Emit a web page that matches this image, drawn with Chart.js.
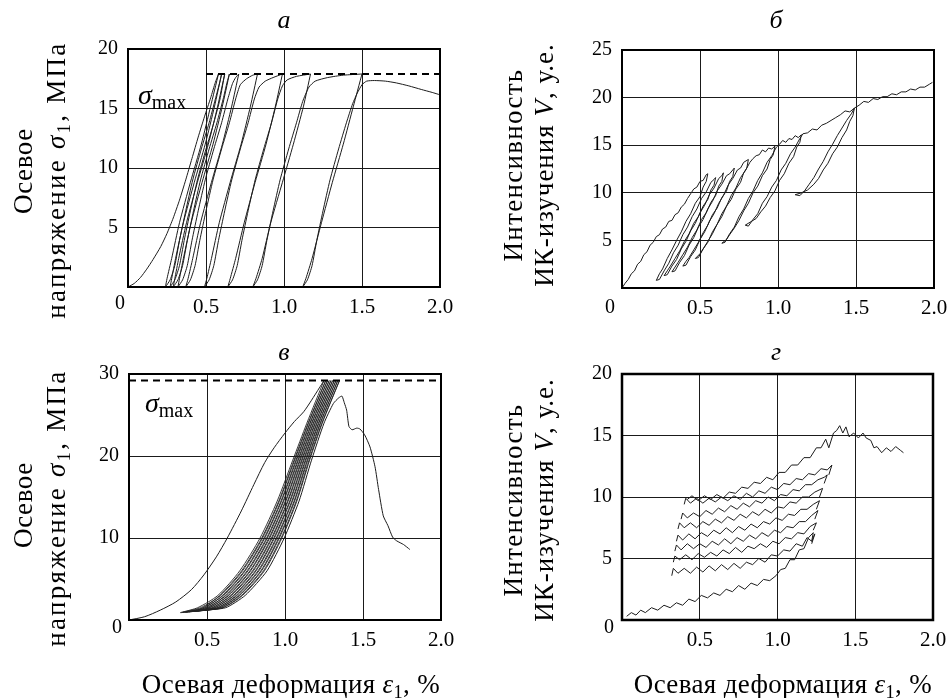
<!DOCTYPE html>
<html><head><meta charset="utf-8">
<script src="https://cdn.jsdelivr.net/npm/chart.js@4.4.1/dist/chart.umd.min.js"></script>
<style>
html,body{margin:0;padding:0;background:#fff;}
#wrap{position:relative;width:952px;height:698px;overflow:hidden;font-family:'Liberation Serif','Times New Roman',serif;color:#000;}
canvas{position:absolute;left:0;top:0;}
.t{position:absolute;white-space:nowrap;line-height:1;z-index:5;}
.c{transform:translate(-50%,-50%);}
.r{transform:translate(-50%,-50%) rotate(-90deg);}
.it{font-style:italic;}
sub{font-size:0.68em;vertical-align:-0.28em;line-height:0;}
</style></head><body>
<div id="wrap">
<canvas id="ca" width="952" height="698"></canvas>
<canvas id="cb" width="952" height="698"></canvas>
<canvas id="cc" width="952" height="698"></canvas>
<canvas id="cd" width="952" height="698"></canvas>

<div class="t c it" style="left:284px;top:20px;font-size:26px">а</div>
<div class="t c it" style="left:776px;top:20px;font-size:26px">б</div>
<div class="t c it" style="left:284px;top:352px;font-size:26px">в</div>
<div class="t c it" style="left:776px;top:352px;font-size:26px">г</div>

<div class="t r" style="left:23px;top:171px;font-size:27px;letter-spacing:0.6px">Осевое</div>
<div class="t r" style="left:56px;top:180px;font-size:27px;letter-spacing:2.3px">напряжение <i>σ</i><sub>1</sub>, МПа</div>
<div class="t r" style="left:513px;top:165px;font-size:27px;letter-spacing:1.3px">Интенсивность</div>
<div class="t r" style="left:544px;top:165px;font-size:27px;letter-spacing:1px">ИК-изучения <i>V</i>, у.е.</div>
<div class="t r" style="left:23px;top:505px;font-size:27px;letter-spacing:0.6px">Осевое</div>
<div class="t r" style="left:56px;top:508px;font-size:27px;letter-spacing:2.3px">напряжение <i>σ</i><sub>1</sub>, МПа</div>
<div class="t r" style="left:513px;top:500px;font-size:27px;letter-spacing:1.3px">Интенсивность</div>
<div class="t r" style="left:544px;top:500px;font-size:27px;letter-spacing:1px">ИК-изучения <i>V</i>, у.е.</div>

<div class="t c" style="left:291px;top:684px;font-size:27px;letter-spacing:0.35px">Осевая деформация <i>ε</i><sub>1</sub>, %</div>
<div class="t c" style="left:783px;top:684px;font-size:27px;letter-spacing:0.35px">Осевая деформация <i>ε</i><sub>1</sub>, %</div>

<div class="t c" style="left:120px;top:302px;font-size:20px">0</div>
<div class="t c" style="left:610px;top:306px;font-size:20px">0</div>
<div class="t c" style="left:117px;top:626px;font-size:20px">0</div>
<div class="t c" style="left:609px;top:626px;font-size:20px">0</div>

<div class="t" style="left:138px;top:81px;font-size:28px"><i>σ</i><span style="font-size:20px;position:relative;top:5px">max</span></div>
<div class="t" style="left:145px;top:389px;font-size:28px"><i>σ</i><span style="font-size:20px;position:relative;top:5px">max</span></div>
</div>
<script>
// ===== axis ranges / ticks =====
const xRange = [0, 2.0];
const xStep = 0.5;
const aYRange = [0, 20], aYStep = 5;
const bYRange = [0, 25], bYStep = 5;
const cYRange = [0, 30], cYStep = 10;
const dYRange = [0, 20], dYStep = 5;

// ===== panel а: axial stress vs strain (cyclic loading) =====
const a_smax = [[0.5,17.9],[2.0,17.9]];
const a_load0 = [[0,0],[0.04,0.3],[0.08,0.8],[0.12,1.5],[0.16,2.3],[0.21,3.4],[0.25,4.5],[0.29,5.8],[0.33,7.3],[0.37,9.0],[0.41,10.8],[0.45,12.6],[0.49,14.3],[0.53,15.9],[0.56,17.2],[0.58,17.9]];
const a_unload0 = [[0.58,17.9],[0.53,15.2],[0.47,12.0],[0.40,8.8],[0.33,5.4],[0.28,2.4],[0.25,0.7],[0.24,0]];
const a_load1 = [[0.24,0],[0.27,0.6],[0.30,1.8],[0.33,3.9],[0.37,6.4],[0.415,9.0],[0.47,11.6],[0.52,13.8],[0.56,15.8],[0.59,17.3],[0.60,17.9]];
const a_unload1 = [[0.60,17.9],[0.555,15.2],[0.495,12.0],[0.425,8.8],[0.355,5.4],[0.305,2.4],[0.28,0.7],[0.27,0]];
const a_load2 = [[0.27,0],[0.30,0.6],[0.33,1.8],[0.36,3.9],[0.40,6.4],[0.445,9.0],[0.50,11.6],[0.55,13.8],[0.59,15.8],[0.61,17.2],[0.62,17.9]];
const a_unload2 = [[0.62,17.9],[0.575,15.2],[0.515,12.0],[0.445,8.8],[0.375,5.4],[0.325,2.4],[0.30,0.7],[0.29,0]];
const a_load3 = [[0.29,0],[0.32,0.6],[0.35,1.8],[0.38,3.9],[0.42,6.4],[0.465,9.0],[0.52,11.6],[0.57,13.8],[0.61,15.8],[0.635,17.2],[0.65,17.9]];
const a_unload3 = [[0.65,17.9],[0.605,15.2],[0.545,12.0],[0.475,8.8],[0.405,5.4],[0.355,2.4],[0.33,0.7],[0.32,0]];
const a_load4 = [[0.32,0],[0.35,0.6],[0.38,1.8],[0.41,3.9],[0.45,6.4],[0.495,9.0],[0.55,11.6],[0.60,13.8],[0.64,15.8],[0.67,17.1],[0.69,17.6],[0.71,17.9]];
const a_unload4 = [[0.71,17.9],[0.665,15.2],[0.605,12.0],[0.535,8.8],[0.465,5.4],[0.415,2.4],[0.385,0.7],[0.37,0]];
const a_load5 = [[0.37,0],[0.40,0.6],[0.43,1.8],[0.46,3.9],[0.50,6.4],[0.545,9.0],[0.60,11.6],[0.65,13.8],[0.69,15.8],[0.72,17.0],[0.76,17.5],[0.80,17.8],[0.83,17.9]];
const a_unload5 = [[0.83,17.9],[0.785,15.2],[0.725,12.0],[0.655,8.8],[0.585,5.4],[0.535,2.4],[0.505,0.7],[0.49,0]];
const a_load6 = [[0.49,0],[0.52,0.6],[0.55,1.8],[0.58,3.9],[0.62,6.4],[0.665,9.0],[0.72,11.6],[0.77,13.8],[0.81,15.8],[0.84,16.8],[0.88,17.3],[0.93,17.6],[0.99,17.9]];
const a_unload6 = [[0.99,17.9],[0.945,15.2],[0.885,12.0],[0.815,8.8],[0.745,5.4],[0.69,2.4],[0.655,0.7],[0.64,0]];
const a_load7 = [[0.64,0],[0.67,0.6],[0.70,1.8],[0.73,3.9],[0.77,6.4],[0.815,9.0],[0.87,11.6],[0.92,13.8],[0.96,15.8],[0.99,16.9],[1.02,17.4],[1.08,17.7],[1.17,17.9]];
const a_unload7 = [[1.17,17.9],[1.125,15.2],[1.06,12.0],[0.99,8.8],[0.915,5.4],[0.86,2.4],[0.82,0.7],[0.80,0]];
const a_load8 = [[0.80,0],[0.83,0.6],[0.86,1.8],[0.89,3.9],[0.93,6.4],[0.975,9.0],[1.03,11.6],[1.08,13.8],[1.12,15.6],[1.16,16.8],[1.20,17.3],[1.28,17.6],[1.38,17.8],[1.50,17.9]];
const a_unload8 = [[1.50,17.9],[1.445,15.2],[1.38,12.0],[1.31,8.8],[1.24,5.4],[1.18,2.4],[1.14,0.7],[1.12,0]];
const a_final = [[1.12,0],[1.15,0.6],[1.18,1.8],[1.21,3.9],[1.25,6.4],[1.295,9.0],[1.35,11.6],[1.40,13.8],[1.44,15.4],[1.47,16.3],[1.50,17.0],[1.53,17.3],[1.58,17.35],[1.65,17.3],[1.72,17.15],[1.80,16.9],[1.88,16.6],[1.95,16.35],[2.0,16.15]];

// ===== panel б: IR intensity vs strain =====
const b_virgin = [[0,0],[0.02,0.5],[0.04,0.9],[0.06,1.5],[0.08,1.8],[0.10,2.5],[0.12,2.8],[0.14,3.5],[0.16,3.8],[0.18,4.5],[0.20,4.8],[0.22,5.4],[0.24,5.6],[0.26,6.2],[0.28,6.4],[0.30,7.0],[0.32,7.1],[0.34,7.7],[0.36,7.9],[0.38,8.5],[0.40,8.8],[0.42,9.4],[0.44,9.9],[0.46,10.4],[0.48,10.6],[0.50,11.2],[0.52,11.3],[0.54,11.9],[0.55,12.0]];
const b_loop1 = [[0.55,12.0],[0.54,11.2],[0.52,10.6],[0.50,9.6],[0.47,8.9],[0.44,7.8],[0.41,7.0],[0.38,5.9],[0.35,5.0],[0.32,4.0],[0.29,3.1],[0.26,2.0],[0.24,1.5],[0.22,0.8],[0.24,0.9],[0.27,1.8],[0.30,2.6],[0.33,3.7],[0.36,4.5],[0.39,5.6],[0.42,6.4],[0.45,7.5],[0.48,8.3],[0.51,9.4],[0.54,10.1],[0.57,11.1],[0.59,11.4],[0.60,11.6]];
const b_loop2 = [[0.60,11.6],[0.59,10.8],[0.57,10.3],[0.55,9.3],[0.52,8.6],[0.49,7.5],[0.46,6.8],[0.43,5.7],[0.40,4.9],[0.37,3.9],[0.34,3.1],[0.31,2.3],[0.29,1.8],[0.27,1.3],[0.29,1.4],[0.32,2.3],[0.35,3.0],[0.38,4.1],[0.41,4.9],[0.44,6.0],[0.47,6.8],[0.50,7.9],[0.53,8.7],[0.56,9.8],[0.59,10.5],[0.62,11.5],[0.64,11.8],[0.65,12.1]];
const b_loop3 = [[0.65,12.1],[0.64,11.2],[0.62,10.7],[0.60,9.7],[0.57,9.0],[0.54,7.9],[0.51,7.2],[0.48,6.1],[0.45,5.3],[0.42,4.3],[0.39,3.5],[0.36,2.7],[0.34,2.2],[0.32,1.7],[0.34,1.8],[0.37,2.7],[0.40,3.4],[0.43,4.5],[0.46,5.3],[0.49,6.4],[0.52,7.2],[0.55,8.3],[0.58,9.1],[0.61,10.2],[0.64,10.9],[0.67,11.8],[0.69,12.0],[0.72,12.6]];
const b_loop4 = [[0.72,12.6],[0.71,11.7],[0.69,11.2],[0.67,10.2],[0.64,9.5],[0.61,8.4],[0.58,7.7],[0.55,6.6],[0.52,5.8],[0.49,4.8],[0.46,4.0],[0.43,3.2],[0.41,2.8],[0.39,2.3],[0.41,2.4],[0.44,3.3],[0.47,4.0],[0.50,5.1],[0.53,5.9],[0.56,7.0],[0.59,7.8],[0.62,8.9],[0.65,9.7],[0.68,10.8],[0.71,11.5],[0.74,12.4],[0.76,12.6],[0.78,13.2],[0.81,13.5]];
const b_loop5 = [[0.81,13.5],[0.80,12.6],[0.78,12.1],[0.76,11.1],[0.73,10.4],[0.70,9.3],[0.67,8.6],[0.64,7.5],[0.61,6.7],[0.58,5.7],[0.55,4.9],[0.52,4.1],[0.50,3.6],[0.47,3.1],[0.49,3.2],[0.52,4.1],[0.55,4.8],[0.58,5.9],[0.61,6.7],[0.64,7.8],[0.67,8.6],[0.70,9.7],[0.73,10.5],[0.76,11.6],[0.79,12.3],[0.82,13.2],[0.84,13.6],[0.86,13.9],[0.88,14.0],[0.90,14.5],[0.92,14.3],[0.94,14.7],[0.96,14.6],[0.98,14.9]];
const b_loop6 = [[0.98,14.9],[0.97,14.0],[0.95,13.5],[0.93,12.5],[0.90,11.8],[0.87,10.7],[0.84,10.0],[0.81,8.9],[0.78,8.1],[0.75,7.1],[0.72,6.3],[0.69,5.6],[0.67,5.1],[0.64,4.7],[0.66,4.8],[0.69,5.7],[0.72,6.4],[0.75,7.5],[0.78,8.3],[0.81,9.4],[0.84,10.2],[0.87,11.3],[0.90,12.1],[0.93,13.2],[0.96,13.9],[0.99,14.8],[1.01,15.1],[1.03,15.5],[1.05,15.3],[1.07,15.7],[1.09,15.6],[1.11,16.0],[1.13,15.8],[1.15,16.1]];
const b_loop7 = [[1.15,16.1],[1.14,15.3],[1.12,14.8],[1.10,13.8],[1.07,13.1],[1.04,12.0],[1.01,11.3],[0.98,10.2],[0.95,9.5],[0.92,8.6],[0.89,8.0],[0.86,7.3],[0.83,7.0],[0.79,6.6],[0.81,6.5],[0.84,7.2],[0.87,7.8],[0.90,8.9],[0.93,9.6],[0.96,10.6],[0.99,11.3],[1.02,12.4],[1.05,13.1],[1.08,14.1],[1.11,14.8],[1.14,15.7],[1.16,16.2],[1.19,16.3],[1.22,16.7],[1.25,16.6],[1.28,17.1],[1.31,17.3],[1.34,17.6],[1.37,17.9],[1.40,18.2],[1.43,18.6],[1.46,18.5],[1.49,18.9]];
const b_loop8 = [[1.49,18.9],[1.48,18.1],[1.46,17.5],[1.44,16.6],[1.41,15.8],[1.38,14.8],[1.35,14.1],[1.32,13.1],[1.29,12.4],[1.26,11.5],[1.23,10.9],[1.19,10.3],[1.15,10.0],[1.11,9.8],[1.14,9.7],[1.17,10.2],[1.20,10.9],[1.23,11.6],[1.26,12.5],[1.29,13.3],[1.32,14.3],[1.35,15.1],[1.38,16.0],[1.41,16.8],[1.44,17.6],[1.47,18.3],[1.49,18.9]];
const b_final = [[1.49,18.9],[1.52,19.2],[1.55,19.6],[1.58,19.5],[1.61,19.9],[1.64,19.8],[1.67,20.1],[1.70,20.1],[1.73,20.4],[1.76,20.3],[1.79,20.6],[1.82,20.6],[1.85,20.9],[1.88,20.8],[1.91,21.1],[1.94,21.1],[1.97,21.4],[1.99,21.6]];

// ===== panel в: axial stress vs strain (fatigue cycling) =====
const c_smax = [[0,29.2],[2.0,29.2]];
const c_virgin = [[0,0],[0.1,0.4],[0.2,1.2],[0.3,2.2],[0.4,3.7],[0.48,5.5],[0.56,7.7],[0.63,10],[0.72,13.3],[0.8,16.5],[0.87,19.2],[0.93,21],[1.0,22.8],[1.06,24.2],[1.12,25.4],[1.17,26.8],[1.22,28.3],[1.25,29.2]];
const c_loop0 = [[1.25,29.2],[1.14,24],[1.05,19.5],[0.95,14.5],[0.84,10],[0.71,6],[0.57,3],[0.44,1.5],[0.33,0.9],[0.453,1.3],[0.582,3],[0.722,6],[0.851,10],[0.96,14.5],[1.058,19.5],[1.148,24],[1.261,29.2]];
const c_loop1 = [[1.261,29.2],[1.151,24],[1.062,19.5],[0.964,14.5],[0.856,10],[0.728,6],[0.588,3],[0.458,1.5],[0.345,0.95],[0.471,1.35],[0.60,3],[0.74,6],[0.866,10],[0.974,14.5],[1.07,19.5],[1.159,24],[1.272,29.2]];
const c_loop2 = [[1.272,29.2],[1.162,24],[1.074,19.5],[0.978,14.5],[0.871,10],[0.745,6],[0.605,3],[0.476,1.5],[0.36,0.95],[0.489,1.35],[0.617,3],[0.757,6],[0.882,10],[0.988,14.5],[1.082,19.5],[1.17,24],[1.283,29.2]];
const c_loop3 = [[1.283,29.2],[1.173,24],[1.086,19.5],[0.992,14.5],[0.887,10],[0.763,6],[0.623,3],[0.494,1.5],[0.37,1.0],[0.507,1.4],[0.635,3],[0.775,6],[0.897,10],[1.002,14.5],[1.094,19.5],[1.181,24],[1.294,29.2]];
const c_loop4 = [[1.294,29.2],[1.184,24],[1.098,19.5],[1.006,14.5],[0.902,10],[0.78,6],[0.64,3],[0.512,1.5],[0.385,1.0],[0.525,1.4],[0.652,3],[0.792,6],[0.913,10],[1.016,14.5],[1.106,19.5],[1.192,24],[1.305,29.2]];
const c_loop5 = [[1.305,29.2],[1.195,24],[1.11,19.5],[1.02,14.5],[0.918,10],[0.798,6],[0.658,3],[0.53,1.5],[0.40,1.05],[0.543,1.45],[0.67,3],[0.81,6],[0.928,10],[1.03,14.5],[1.118,19.5],[1.203,24],[1.316,29.2]];
const c_loop6 = [[1.316,29.2],[1.206,24],[1.122,19.5],[1.034,14.5],[0.933,10],[0.815,6],[0.675,3],[0.548,1.5],[0.41,1.05],[0.561,1.45],[0.687,3],[0.827,6],[0.944,10],[1.044,14.5],[1.13,19.5],[1.214,24],[1.327,29.2]];
const c_loop7 = [[1.327,29.2],[1.217,24],[1.134,19.5],[1.048,14.5],[0.949,10],[0.833,6],[0.693,3],[0.566,1.5],[0.425,1.1],[0.579,1.5],[0.705,3],[0.845,6],[0.959,10],[1.058,14.5],[1.142,19.5],[1.225,24],[1.338,29.2]];
const c_loop8 = [[1.338,29.2],[1.228,24],[1.146,19.5],[1.062,14.5],[0.964,10],[0.85,6],[0.71,3],[0.584,1.5],[0.44,1.1],[0.597,1.5],[0.722,3],[0.862,6],[0.975,10],[1.072,14.5],[1.154,19.5],[1.236,24],[1.349,29.2]];
const c_loop9 = [[1.349,29.2],[1.239,24],[1.158,19.5],[1.076,14.5],[0.98,10],[0.868,6],[0.728,3],[0.602,1.5],[0.455,1.15]];
const c_final = [[0.455,1.15],[0.62,1.5],[0.745,3],[0.885,6],[0.995,10],[1.09,14.5],[1.17,19.5],[1.25,24],[1.31,26.4],[1.345,27.1],[1.365,27.3],[1.38,26.5],[1.395,25.6],[1.41,23.6],[1.43,23.2],[1.46,23.4],[1.48,23.3],[1.51,22.6],[1.545,21.1],[1.577,18.7],[1.60,15.9],[1.63,12.7],[1.66,11.5],[1.69,10.1],[1.716,9.65],[1.76,9.2],[1.80,8.6]];

// ===== panel г: IR intensity vs strain (fatigue cycling) =====
const d_virgin = [[0.03,0.3],[0.06,0.6],[0.09,0.4],[0.12,0.8],[0.15,0.6],[0.19,1.0],[0.23,0.8],[0.27,1.2],[0.31,1.0],[0.35,1.4],[0.39,1.2],[0.43,1.7],[0.47,1.5],[0.51,2.0],[0.55,1.8],[0.59,2.2],[0.63,2.0],[0.67,2.5],[0.71,2.3],[0.75,2.8],[0.79,2.5],[0.83,3.0],[0.87,2.8],[0.91,3.3],[0.95,3.2],[0.99,3.6],[1.02,4.1],[1.05,4.2],[1.08,4.9],[1.11,4.9],[1.14,5.7],[1.17,5.8],[1.20,6.7],[1.23,7.1],[1.22,6.4]];
const d_line1 = [[0.32,3.6],[0.33,4.2],[0.36,3.8],[0.40,4.2],[0.44,3.8],[0.48,4.3],[0.52,3.9],[0.56,4.4],[0.60,4.0],[0.64,4.5],[0.68,4.1],[0.72,4.6],[0.76,4.2],[0.80,4.7],[0.84,4.5],[0.88,5.0],[0.92,4.7],[0.96,5.3],[1.00,5.2],[1.04,5.7],[1.08,5.6],[1.12,6.2],[1.16,6.0],[1.19,6.7],[1.22,6.4],[1.24,7.0],[1.22,6.2]];
const d_line2 = [[0.33,4.7],[0.34,5.2],[0.37,4.9],[0.41,5.3],[0.45,4.9],[0.49,5.4],[0.53,5.1],[0.57,5.5],[0.61,5.2],[0.65,5.7],[0.69,5.4],[0.73,5.9],[0.77,5.5],[0.81,6.0],[0.85,5.8],[0.89,6.2],[0.93,5.9],[0.97,6.4],[1.01,6.2],[1.05,6.7],[1.09,6.6],[1.13,7.1],[1.17,7.0],[1.21,7.6],[1.25,7.9],[1.23,7.3]];
const d_line3 = [[0.34,5.6],[0.35,6.1],[0.38,5.7],[0.42,6.2],[0.46,5.8],[0.50,6.2],[0.54,5.9],[0.58,6.4],[0.62,6.1],[0.66,6.6],[0.70,6.2],[0.74,6.7],[0.78,6.4],[0.82,6.9],[0.86,6.6],[0.90,7.1],[0.94,6.8],[0.98,7.3],[1.02,7.1],[1.06,7.6],[1.10,7.5],[1.14,8.0],[1.18,8.0],[1.22,8.5],[1.26,8.9],[1.24,8.2]];
const d_line4 = [[0.35,6.4],[0.36,6.9],[0.39,6.5],[0.43,7.0],[0.47,6.6],[0.51,7.1],[0.55,6.8],[0.59,7.3],[0.63,7.0],[0.67,7.5],[0.71,7.1],[0.75,7.6],[0.79,7.3],[0.83,7.8],[0.87,7.5],[0.91,8.0],[0.95,7.8],[0.99,8.3],[1.03,8.1],[1.07,8.6],[1.11,8.5],[1.15,9.0],[1.19,9.0],[1.23,9.4],[1.27,9.7],[1.25,9.0]];
const d_line5 = [[0.36,7.4],[0.37,7.9],[0.40,7.5],[0.44,7.9],[0.48,7.5],[0.52,8.0],[0.56,7.7],[0.60,8.2],[0.64,7.9],[0.68,8.4],[0.72,8.1],[0.76,8.6],[0.80,8.3],[0.84,8.8],[0.88,8.5],[0.92,9.0],[0.96,8.7],[1.00,9.2],[1.04,9.1],[1.08,9.6],[1.12,9.5],[1.16,10.0],[1.20,10.0],[1.24,10.4],[1.29,10.7],[1.27,10.0]];
const d_line6 = [[0.38,8.2],[0.39,8.7],[0.42,8.3],[0.46,8.7],[0.50,8.4],[0.54,8.9],[0.58,8.6],[0.62,9.1],[0.66,8.8],[0.70,9.3],[0.74,9.0],[0.78,9.5],[0.82,9.2],[0.86,9.7],[0.90,9.5],[0.94,10.0],[0.98,9.7],[1.02,10.2],[1.06,10.1],[1.10,10.6],[1.14,10.5],[1.18,11.0],[1.22,11.0],[1.26,11.4],[1.30,11.6],[1.32,11.8],[1.30,11.1]];
const d_line7 = [[0.40,9.4],[0.41,9.9],[0.44,9.5],[0.48,9.9],[0.52,9.5],[0.56,9.9],[0.60,9.6],[0.64,10.0],[0.68,9.7],[0.72,10.1],[0.76,9.8],[0.80,10.3],[0.84,10.0],[0.88,10.5],[0.92,10.3],[0.96,10.8],[1.00,10.6],[1.04,11.1],[1.08,11.0],[1.12,11.5],[1.16,11.4],[1.20,11.9],[1.24,11.8],[1.28,12.3],[1.32,12.2],[1.35,12.6],[1.33,11.8]];
const d_top = [[0.42,9.8],[0.45,10.1],[0.49,9.7],[0.53,10.1],[0.57,9.8],[0.61,10.2],[0.65,9.9],[0.69,10.4],[0.73,10.3],[0.77,10.8],[0.81,10.7],[0.85,11.2],[0.89,11.1],[0.93,11.6],[0.97,11.4],[1.01,12.0],[1.05,12.0],[1.09,12.6],[1.13,12.6],[1.17,13.2],[1.21,13.2],[1.25,14.0],[1.28,14.0],[1.31,14.7],[1.33,14.0],[1.36,15.2],[1.38,15.4],[1.40,15.8],[1.42,15.2],[1.44,15.7],[1.46,14.9],[1.49,15.2],[1.52,14.8],[1.55,15.2],[1.57,14.8],[1.60,14.6],[1.62,14.0],[1.64,14.1],[1.67,13.6],[1.70,14.0],[1.73,13.7],[1.76,14.1],[1.79,13.8],[1.81,13.6]];

// ===== helpers =====
const FONT = "'Liberation Serif','Times New Roman',serif";
const pts = arr => arr.map(p => ({x: p[0], y: p[1]}));
const line = (arr, tension, w, col) => ({data: pts(arr), showLine: true, borderColor: col || '#1c1c1c', borderWidth: w || 1, pointRadius: 0, tension: tension, fill: false});
const dashed = arr => ({data: pts(arr), showLine: true, borderColor: '#000', borderWidth: 2, borderDash: [7, 5], pointRadius: 0, tension: 0, fill: false});

const framePlugin = {
  id: 'frame',
  afterDatasetsDraw(chart, args, opts) {
    const {ctx, chartArea: a} = chart;
    ctx.save();
    ctx.strokeStyle = '#000';
    ctx.lineWidth = opts.width || 2;
    ctx.strokeRect(a.left, a.top, a.right - a.left, a.bottom - a.top);
    ctx.restore();
  }
};

function makeChart(id, rect, yRange, yStep, datasets, frameW) {
  const yW = 50, xH = 40, W = 952, H = 698;
  return new Chart(document.getElementById(id), {
    type: 'scatter',
    data: {datasets: datasets},
    options: {
      responsive: false, animation: false, devicePixelRatio: 1,
      layout: {padding: {left: rect.l - yW, top: rect.t, right: W - rect.r, bottom: H - rect.b - xH}},
      plugins: {legend: {display: false}, tooltip: {enabled: false}, frame: {width: frameW}},
      scales: {
        x: {
          type: 'linear', min: xRange[0], max: xRange[1],
          afterFit(s) { s.height = xH; s.paddingLeft = 0; s.paddingRight = 0; },
          ticks: {stepSize: xStep, autoSkip: false, maxRotation: 0, padding: 8, color: '#000',
                  font: {family: FONT, size: 21},
                  callback: v => (v === 0 ? '' : Number(v).toFixed(1))},
          grid: {color: '#1a1a1a', lineWidth: 1, drawTicks: false},
          border: {display: false}
        },
        y: {
          type: 'linear', min: yRange[0], max: yRange[1],
          afterFit(s) { s.width = yW; s.paddingTop = 0; s.paddingBottom = 0; },
          ticks: {stepSize: yStep, padding: 10, color: '#000',
                  font: {family: FONT, size: 20},
                  callback: v => (v === 0 ? '' : String(v))},
          grid: {color: '#1a1a1a', lineWidth: 1, drawTicks: false},
          border: {display: false}
        }
      }
    },
    plugins: [framePlugin]
  });
}

const aCurves = [a_load0, a_unload0, a_load1, a_unload1, a_load2, a_unload2, a_load3, a_unload3, a_load4, a_unload4, a_load5, a_unload5, a_load6, a_unload6, a_load7, a_unload7, a_load8, a_unload8, a_final];
const bCurves = [b_virgin, b_loop1, b_loop2, b_loop3, b_loop4, b_loop5, b_loop6, b_loop7, b_loop8, b_final];
const cLoops = [c_loop0, c_loop1, c_loop2, c_loop3, c_loop4, c_loop5, c_loop6, c_loop7, c_loop8, c_loop9];
const dCurves = [d_virgin, d_line1, d_line2, d_line3, d_line4, d_line5, d_line6, d_line7, d_top];

makeChart('ca', {l: 128, t: 49, r: 440, b: 287}, aYRange, aYStep,
  [dashed(a_smax)].concat(aCurves.map(c => line(c, 0.2))), 2);
makeChart('cb', {l: 622, t: 50, r: 934, b: 288}, bYRange, bYStep,
  bCurves.map(c => line(c, 0)), 2);
makeChart('cc', {l: 129, t: 374, r: 441, b: 620}, cYRange, cYStep,
  [dashed(c_smax), line(c_virgin, 0.25)].concat(cLoops.map(c => line(c, 0.25, 0.9, '#222')), [line(c_final, 0.2)]), 2);
makeChart('cd', {l: 622, t: 374, r: 933, b: 620}, dYRange, dYStep,
  dCurves.map(c => line(c, 0)), 2.5);
</script>
</body></html>
